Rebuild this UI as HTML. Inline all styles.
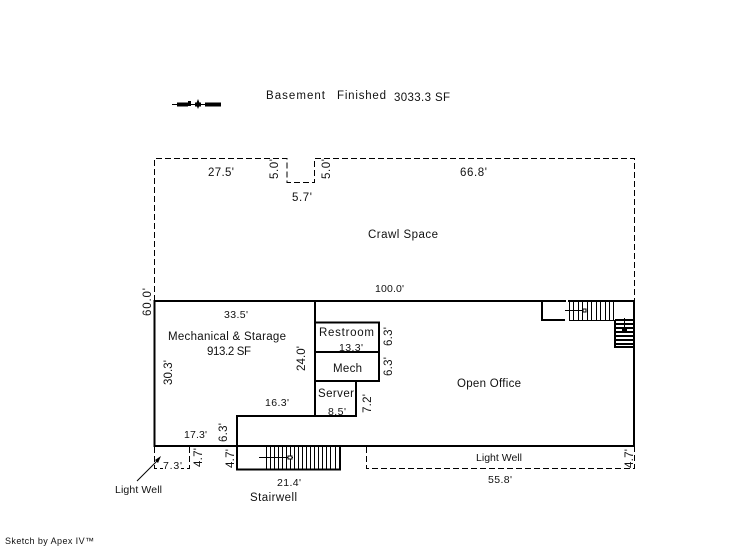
<!DOCTYPE html>
<html><head><meta charset="utf-8"><style>
html,body{margin:0;padding:0;background:#fff}
svg{display:block}
text{font-family:"Liberation Sans",sans-serif;fill:#111;font-size:11.5px}
</style></head><body>
<svg width="746" height="547" viewBox="0 0 746 547" xmlns="http://www.w3.org/2000/svg">
<g fill="none" stroke="#000" stroke-width="1" stroke-dasharray="6 3">
<path d="M154.5 301V158.5H287V182.5H314.500V158.5H634.5V301"/>
<path d="M154.5 447V468.5H189.500V447"/>
<path d="M366.500 447V468.5H634.5V447"/>
</g>
<rect x="163" y="463" width="18" height="7" fill="#fff"/>
<g fill="none" stroke="#000" stroke-width="2">
<rect x="154.5" y="301" width="479.5" height="145"/>
<path d="M315 301V416"/>
<path d="M315 322.500H379V381H315"/>
<path d="M315 352H379"/>
<path d="M356 381V416H237V469.500H340V446"/>
<path d="M542 301V320H565"/>
<path d="M615 320H634M615 320V347H634"/>
</g>
<rect x="336" y="447" width="3" height="21.500" fill="#fff"/>
<rect x="566" y="300" width="2" height="2" fill="#fff"/>
<path stroke="#000" stroke-width="1" fill="none" d="M266.500 447V469M270.500 447V469M274.500 447V469M278.500 447V469M282.500 447V469M286.500 447V469M290.500 447V469M294.500 447V469M298.500 447V469M302.500 447V469M306.500 447V469M310.500 447V469M314.500 447V469M318.500 447V469M322.500 447V469M326.500 447V469M330.500 447V469M335.500 447V469M259 457.500H293"/>
<rect x="288" y="456" width="4" height="3" fill="#fff" stroke="#000"/>
<path stroke="#000" stroke-width="1" fill="none" d="M569.500 302V320.500M573.500 302V320.500M578.500 302V320.500M582.500 302V320.500M587.500 302V320.500M591.500 302V320.500M596.500 302V320.500M600.500 302V320.500M605.500 302V320.500M609.500 302V320.500M613.500 302V320.500M569 320.500H614M565 310.500H586M624.500 318V330"/>
<rect x="583" y="309" width="3" height="3" fill="#fff" stroke="#000"/>
<path stroke="#000" stroke-width="2" fill="none" d="M615 324H634M615 328H634M615 332H634M615 336H634M615 340H634M615 344H634"/>
<rect x="622" y="328" width="5" height="3" fill="#000"/>
<path d="M137 481L159 459" stroke="#000" fill="none"/>
<path d="M161 456L155 460L158 463Z" fill="#000"/>
<path d="M172 104.500H221" stroke="#000" fill="none"/>
<path d="M177 102.500H188V106.500H177ZM188 101H191V106H188ZM198 99L200 104L198 109L196 104ZM195 102.500H201V106.500H195ZM205 102.500H221V106.500H205Z" fill="#000"/>
<text x="266" y="99" textLength="59">Basement</text>
<text x="337" y="99" textLength="49">Finished</text>
<text x="394" y="101" textLength="56">3033.3 SF</text>
<text x="208" y="176" textLength="26">27.5'</text>
<text x="460" y="176" textLength="27">66.8'</text>
<text x="292" y="201" textLength="20">5.7'</text>
<text x="368" y="238" textLength="70">Crawl Space</text>
<text x="375" y="292" textLength="29" style="font-size:10.500px">100.0'</text>
<text x="224" y="318" textLength="24" style="font-size:10.500px">33.5'</text>
<text x="168" y="340" textLength="118">Mechanical &amp; Starage</text>
<text x="207" y="355" textLength="44">913.2 SF</text>
<text x="319" y="336" textLength="55">Restroom</text>
<text x="339" y="351" textLength="24" style="font-size:10.500px">13.3'</text>
<text x="333" y="372" textLength="29">Mech</text>
<text x="318" y="397" textLength="36">Server</text>
<text x="328" y="415" textLength="18" style="font-size:10.500px">8.5'</text>
<text x="265" y="406" textLength="24" style="font-size:10.500px">16.3'</text>
<text x="457" y="387" textLength="64">Open Office</text>
<text x="184" y="438" textLength="23" style="font-size:10.500px">17.3'</text>
<text x="163" y="469" textLength="19" style="font-size:10.500px">7.3'</text>
<text x="115" y="493" textLength="47" style="font-size:10.500px">Light Well</text>
<text x="277" y="486" textLength="24" style="font-size:10.500px">21.4'</text>
<text x="250" y="501" textLength="47">Stairwell</text>
<text x="476" y="461" textLength="46" style="font-size:10.500px">Light Well</text>
<text x="488" y="483" textLength="24" style="font-size:10.500px">55.8'</text>
<text x="5" y="544" textLength="89" style="font-size:9px">Sketch by Apex IV™</text>
<g style="font-size:11px">
<text transform="translate(278,179) rotate(-90)" textLength="20">5.0'</text>
<text transform="translate(330,179) rotate(-90)" textLength="20">5.0'</text>
<text transform="translate(151,316) rotate(-90)" textLength="28">60.0'</text>
<text transform="translate(172,385) rotate(-90)" textLength="25">30.3'</text>
<text transform="translate(305,371) rotate(-90)" textLength="25">24.0'</text>
<text transform="translate(392,346) rotate(-90)" textLength="19">6.3'</text>
<text transform="translate(392,376) rotate(-90)" textLength="19">6.3'</text>
<text transform="translate(371,413) rotate(-90)" textLength="19">7.2'</text>
<text transform="translate(227,442) rotate(-90)" textLength="19">6.3'</text>
<text transform="translate(202,467) rotate(-90)" textLength="19">4.7'</text>
<text transform="translate(234,468) rotate(-90)" textLength="19">4.7'</text>
<text transform="translate(633,468) rotate(-90)" textLength="19">4.7'</text>
</g>
</svg>
</body></html>
